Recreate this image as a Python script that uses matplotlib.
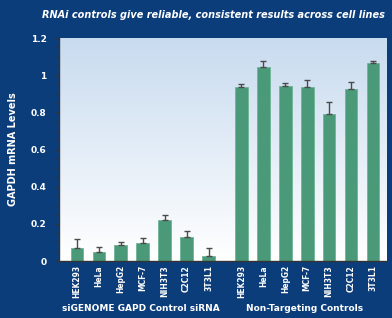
import numpy as np
import matplotlib.pyplot as plt
from matplotlib.colors import LinearSegmentedColormap

# data
cells = ['HEK293', 'HeLa', 'HepG2', 'MCF-7', 'NIH3T3', 'C2C12', '3T3L1']
gapd_vals = [0.07, 0.05, 0.086, 0.095, 0.22, 0.128, 0.03]
gapd_err = [0.05, 0.027, 0.018, 0.03, 0.03, 0.032, 0.038]
ntc_vals = [0.935, 1.042, 0.942, 0.938, 0.791, 0.924, 1.064]
ntc_err = [0.018, 0.034, 0.018, 0.036, 0.065, 0.041, 0.012]
group_names = ['siGENOME GAPD Control siRNA', 'Non-Targeting Controls']
title = 'RNAi controls give reliable, consistent results across cell lines'

plt.rcParams['font.family'] = ['DejaVu Sans']

bg = '#0c3d7b'
bar_c = '#4a9a79'

fig = plt.figure(figsize=(3.92, 3.18), dpi=100, facecolor=bg)
ax = fig.add_axes([0.1505, 0.179, 0.8345, 0.7015])

x1 = np.arange(len(cells))
x2 = x1 + 7.5
xlim = (-0.82, 14.1)
ylim = (0, 1.2)

# gradient background of plot area
grad = LinearSegmentedColormap.from_list('g', ['#ffffff', '#c8dbef'])
ax.imshow(np.linspace(0, 1, 100).reshape(-1, 1), cmap=grad, origin='lower',
          extent=[xlim[0], xlim[1], ylim[0], ylim[1]], aspect='auto', zorder=0)

for xs, v, e in [(x1, gapd_vals, gapd_err), (x2, ntc_vals, ntc_err)]:
    ax.bar(xs, v, width=0.58, color=bar_c, edgecolor='#6fb596', linewidth=0.6, zorder=2)
    ax.errorbar(xs, v, yerr=[np.zeros(len(e)), e], fmt='none', ecolor='#4a4a4a',
                elinewidth=1.0, capsize=2, capthick=1.0, zorder=3)

ax.set_xlim(*xlim)
ax.set_ylim(*ylim)
ax.set_xticks(np.concatenate([x1, x2]))
ax.set_xticklabels(cells + cells, rotation=90, color='white', fontsize=6, fontweight='bold',
                   fontstretch='condensed')
ax.tick_params(axis='x', length=0, pad=3)
ax.set_yticks([0, 0.2, 0.4, 0.6, 0.8, 1, 1.2])
ax.set_yticklabels(['0', '0.2', '0.4', '0.6', '0.8', '1', '1.2'], color='white',
                   fontsize=6.5, fontweight='bold')
ax.set_yticks(np.arange(0, 1.21, 0.05), minor=True)
ax.tick_params(axis='y', which='major', length=3, color='#333333', pad=6)
ax.tick_params(axis='y', which='minor', length=2, color='#333333')
for s in ['top', 'right']:
    ax.spines[s].set_visible(False)
for s in ['left', 'bottom']:
    ax.spines[s].set_color('#333333')
    ax.spines[s].set_linewidth(1.0)

ylab = ax.set_ylabel('GAPDH mRNA Levels', color='white', fontsize=7, fontweight='bold',
                     labelpad=9)

t = fig.text(0.545, 0.952, title, color='white', fontsize=9, fontweight='bold',
             fontstyle='italic', ha='center', va='center')
g1 = fig.text(0.36, 0.03, group_names[0], color='white', fontsize=8, fontweight='bold',
              ha='center', va='center')
g2 = fig.text(0.778, 0.03, group_names[1], color='white', fontsize=8, fontweight='bold',
              ha='center', va='center')

# shrink texts to the widths seen in the reference
fig.canvas.draw()
r = fig.canvas.get_renderer()
for txt, w in [(t, 343), (g1, 158), (g2, 116)]:
    cur = txt.get_window_extent(r).width
    txt.set_fontsize(txt.get_fontsize() * w / cur)

fig.savefig('out.png', dpi=100, facecolor=bg)
